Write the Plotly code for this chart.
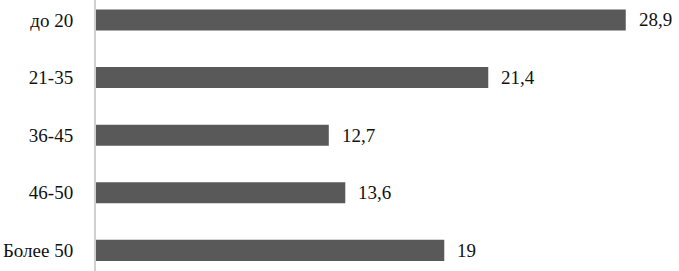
import plotly.graph_objects as go

categories = ["до 20", "21-35", "36-45", "46-50", "Более 50"]
values = [28.9, 21.4, 12.7, 13.6, 19]
value_labels = ["28,9", "21,4", "12,7", "13,6", "19"]

FONT = "Liberation Serif, Times New Roman, serif"

fig = go.Figure()
fig.add_trace(go.Bar(
    y=categories, x=values, orientation="h",
    marker=dict(color="#595959", line=dict(width=0)),
    width=0.365,
    hoverinfo="skip",
))

for c, v, t in zip(categories, values, value_labels):
    fig.add_annotation(x=v, y=c, text=t, showarrow=False, xanchor="left",
                       xshift=11, font=dict(family=FONT, size=19, color="#111111"))

fig.update_layout(
    width=679, height=271,
    margin=dict(l=96, r=0, t=0, b=0, autoexpand=False),
    paper_bgcolor="white", plot_bgcolor="white",
    showlegend=False,
    font=dict(family=FONT),
    xaxis=dict(range=[0, 583 / 18.33], showgrid=False, zeroline=False,
               showticklabels=False, showline=False, fixedrange=True,
               automargin=False),
    yaxis=dict(type="category", categoryorder="array", categoryarray=categories,
               range=[4.358, -0.347], showgrid=False, zeroline=False,
               showline=True, linecolor="#d0d0d0", linewidth=2,
               ticks="", ticklabelstandoff=17, automargin=False,
               tickfont=dict(family=FONT, size=19, color="#111111")),
)

fig.write_html("out.html", config={"displayModeBar": False},
               post_script="document.body.style.margin='0';document.body.style.padding='0';")
